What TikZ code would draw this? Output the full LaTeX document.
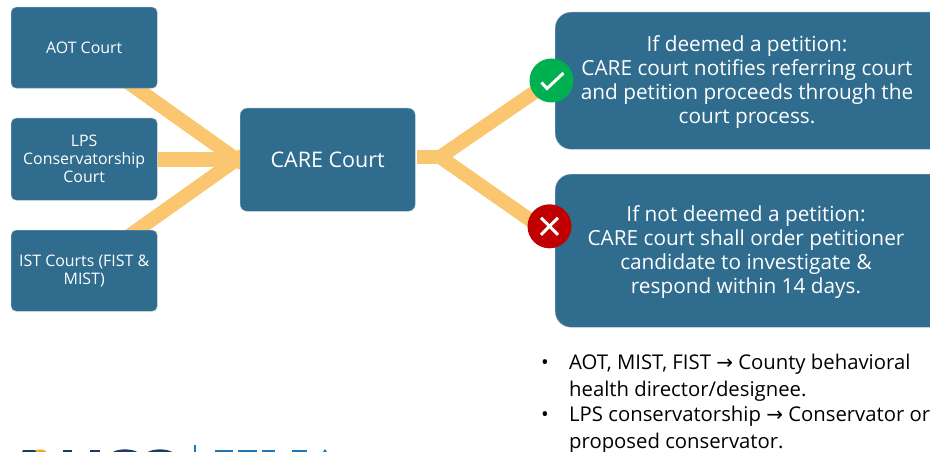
\documentclass[tikz,border=0pt]{standalone}
\usepackage{fontspec}
\setmainfont{Open Sans}
\newfontfamily\arrowfont{DejaVu Sans}
\usetikzlibrary{backgrounds}
\definecolor{boxblue}{HTML}{2F6C8E}
\definecolor{bandorange}{HTML}{FBC670}
\definecolor{okgreen}{HTML}{00B050}
\definecolor{nored}{HTML}{C00000}
\definecolor{logonavy}{HTML}{1F3A5F}
\definecolor{logoblue}{HTML}{1F78B4}
\definecolor{logoorange}{HTML}{F5A623}
\tikzset{
  x=1pt,y=-1pt,
  box/.style={fill=boxblue,draw=boxblue!60!white,line width=.4pt,rounded corners=#1,text=white,inner sep=0pt,align=center,anchor=north west},
  small text/.style={font=\fontsize{15.9pt}{18pt}\selectfont},
  band/.style={draw=bandorange,line width=14pt},
  bandflat/.style={draw=bandorange,line width=15pt},
  badge/.style={circle,inner sep=0pt,minimum size=44pt},
  mark line/.style={draw=white,line width=3pt},
  big text/.style={font=\fontsize{20.8pt}{23.9pt}\selectfont,text=white,align=center,inner sep=0pt},
  txt/.style={inner sep=0pt,anchor=base west,font=\fontsize{20.3pt}{24pt}\selectfont},
}
\newcommand{\arr}{{\arrowfont\fontsize{20pt}{24pt}\selectfont →}}
\begin{document}
\begin{tikzpicture}
\useasboundingbox (0,0) rectangle (930,452);
\clip (0,0) rectangle (930,452);
% boxes
\node[box=5pt,minimum width=146pt,minimum height=81pt,small text] (aot) at (11,7) {AOT Court};
\node[box=5pt,minimum width=146pt,minimum height=82pt,small text] (lps) at (11,118) {LPS\\Conservatorship\\Court};
\node[box=5pt,minimum width=146pt,minimum height=81pt,small text] (ist) at (11,230) {IST Courts (FIST \&\\MIST)};
\node[box=7pt,minimum width=175pt,minimum height=103pt,font=\fontsize{21.5pt}{24pt}\selectfont] (care) at (240,108) {CARE Court};
\node[box=16pt,minimum width=400pt,minimum height=137pt] (yes) at (555,12) {};
\node[box=16pt,minimum width=400pt,minimum height=153pt] (no) at (555,174) {};
% box texts
\node[big text] (yestxt) at (747,82) {If deemed a petition:\\CARE court notifies referring court\\and petition proceeds through the\\court process.};
\node[big text] (notxt) at (746,252) {If not deemed a petition:\\CARE court shall order petitioner\\candidate to investigate \&\\respond within 14 days.};
% badges
\node[badge,fill=okgreen] (ok) at (551.5,80.5) {};
\draw[mark line] ([shift={(-10,2)}]ok.center) -- ([shift={(-4.5,8)}]ok.center) -- ([shift={(12,-7.5)}]ok.center);
\node[badge,fill=nored] (bad) at (549.5,226.3) {};
\draw[mark line] ([shift={(-8.5,-8.5)}]bad.center) -- ([shift={(8.5,8.5)}]bad.center);
\draw[mark line] ([shift={(-8.5,8.5)}]bad.center) -- ([shift={(8.5,-8.5)}]bad.center);
% connectors
\coordinate (s1) at (121,77.4);
\coordinate (e1) at (243,164);
\coordinate (s3) at (121,241.6);
\coordinate (e3) at (243,155);
\coordinate (m1) at (158,159.5);
\coordinate (m2) at (238.5,159.5);
\coordinate (o1) at (417,157);
\coordinate (o2) at (441,157);
\coordinate (j1) at (438,158.4);
\coordinate (j2) at (438,155.6);
\coordinate (badend) at (549.5,233.5);
\begin{scope}[on background layer]
  \draw[band] (s1) -- (e1);
  \draw[band] (s3) -- (e3);
  \draw[bandflat] (m1) -- (m2);
  \draw[band] (o1) -- (o2);
  \draw[band] (j1) -- (ok.center);
  \draw[band] (j2) -- (badend);
\end{scope}
% bullets
\node[txt] (b1) at (541,369) {•};
\node[txt] (l1) at (569,369) {AOT, MIST, FIST \arr{} County behavioral};
\node[txt] (l2) at (569,396) {health director/designee.};
\node[txt] (b2) at (541,421) {•};
\node[txt] (l3) at (569,421) {LPS conservatorship \arr{} Conservator or};
\node[txt] (l4) at (569,448) {proposed conservator.};
% logo, cut off by the lower edge
\fill[logonavy] (22,452) -- (23,450) -- (35,450) -- (37,452) -- cycle;
\fill[logoorange] (35,449.5) -- (43,449.5) -- (47,452) -- (38,452) -- cycle;
\fill[logonavy] (63,450) rectangle (72,452);
\fill[logonavy] (90,450) rectangle (100,452);
\fill[logonavy] (113,452) .. controls (118,448.5) and (132,448.5) .. (137,452) -- cycle;
\fill[logonavy] (148,452) .. controls (153,448.5) and (167,448.5) .. (172,452) -- cycle;
\fill[logoblue] (194,445) rectangle (196,452);
\fill[logoblue] (215,449.5) rectangle (233,452);
\fill[logoblue] (238,449.5) rectangle (257,452);
\fill[logoblue] (262,449.5) rectangle (275,452);
\fill[logoblue] (292,449.5) rectangle (307,452);
\fill[logoblue] (323,452) -- (325,449) -- (327,452) -- cycle;
\end{tikzpicture}
\end{document}
